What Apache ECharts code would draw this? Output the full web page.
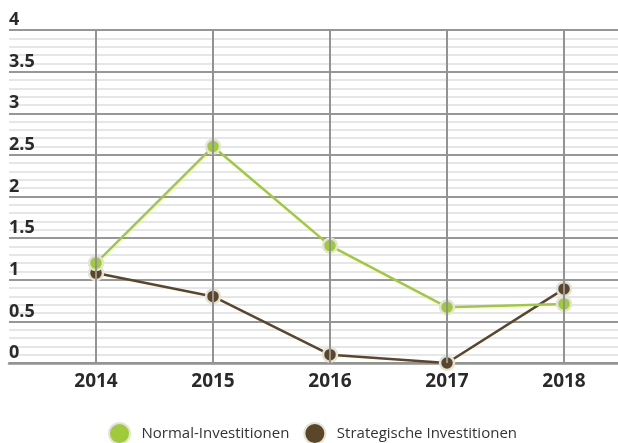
<!DOCTYPE html>
<html>
<head>
<meta charset="utf-8">
<script src="https://cdn.jsdelivr.net/npm/echarts@6/dist/echarts.min.js"></script>
<style>html,body{margin:0;padding:0;background:#fff;}#c{width:618px;height:443px;}</style>
</head>
<body>
<div id="c"></div>
<script>
var years = [2014, 2015, 2016, 2017, 2018];
var normal = [1.2, 2.6, 1.41, 0.67, 0.71];
var strategic = [1.08, 0.8, 0.1, 0.0, 0.89];
var seriesNames = ['Normal-Investitionen', 'Strategische Investitionen'];

var green = '#9fcb3a';
var brown = '#5b462a';
var ring = '#e4e4d4';

function pairs(vals) { return years.map(function (y, i) { return [y, vals[i]]; }); }

var chart = echarts.init(document.getElementById('c'), null, {renderer: 'canvas'});
chart.setOption({
  animation: false,
  backgroundColor: '#fff',
  grid: {left: 9, right: 0, top: 30, bottom: 80, containLabel: false},
  legend: {
    data: seriesNames,
    left: 103, top: 417,
    icon: 'circle', itemWidth: 22, itemHeight: 21, itemGap: 14,
    textStyle: {fontFamily: 'Open Sans', fontSize: 15, color: '#333', padding: [0, 0, 0, 6]}
  },
  xAxis: {
    type: 'value',
    min: 2014 - 87 / 117,
    max: 2018 + 54 / 117,
    splitLine: {show: false},
    axisTick: {show: false},
    axisLine: {show: true, lineStyle: {color: '#939393', width: 2.5}},
    axisLabel: {
      customValues: years,
      margin: 9,
      fontFamily: 'Open Sans', fontWeight: 'bold', fontSize: 19, color: '#2a2a2a',
      formatter: function (v) { return String(Math.round(v)); }
    }
  },
  yAxis: {
    type: 'value',
    min: 0, max: 4, interval: 0.5,
    axisLine: {show: false},
    axisTick: {show: false},
    splitLine: {show: true, lineStyle: {color: '#979797', width: 2}},
    minorTick: {show: false, splitNumber: 5},
    minorSplitLine: {show: true, lineStyle: {color: '#dedede', width: 1.5}},
    axisLabel: {
      inside: true, margin: 0, align: 'left', verticalAlign: 'bottom',
      padding: [0, 0, 1, 0],
      fontFamily: 'Open Sans', fontWeight: 'bold', fontSize: 18, color: '#2a2a2a',
      showMaxLabel: true, showMinLabel: true
    }
  },
  series: [
    {
      name: seriesNames[1], type: 'line', z: 3,
      data: pairs(strategic),
      symbol: 'circle', symbolSize: 14,
      lineStyle: {color: brown, width: 2.5},
      itemStyle: {color: brown, borderColor: ring, borderWidth: 2.5},
      markLine: {
        silent: true, symbol: 'none', animation: false,
        label: {show: false},
        lineStyle: {color: '#939393', width: 2, type: 'solid'},
        data: years.map(function (y) { return {xAxis: y}; })
      }
    },
    {
      name: seriesNames[0], type: 'line', z: 4,
      data: pairs(normal),
      symbol: 'circle', symbolSize: 14,
      lineStyle: {color: green, width: 2.5},
      itemStyle: {color: green, borderColor: ring, borderWidth: 2.5}
    }
  ]
});
</script>
</body>
</html>
